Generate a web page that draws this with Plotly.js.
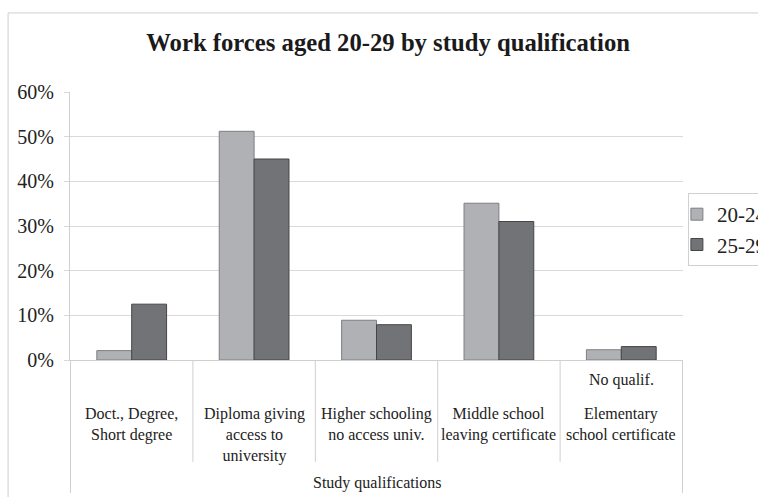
<!DOCTYPE html>
<html>
<head>
<meta charset="utf-8">
<script src="https://cdn.plot.ly/plotly-3.0.1.min.js"></script>
</head>
<body style="margin:0;background:#fff;font-family:'Liberation Serif',serif">
<div id="chart" style="width:758px;height:497px"></div>
<script>
const categories = ["Doct., Degree, Short degree", "Diploma giving access to university", "Higher schooling no access univ.", "Middle school leaving certificate", "Elementary school certificate"];
const categoryLabels = ["Doct., Degree,<br>Short degree", "Diploma giving<br>access to<br>university", "Higher schooling<br>no access univ.", "Middle school<br>leaving certificate", "Elementary<br>school certificate"];
const seriesNames = ["20-24", "25-29"];
const values2024 = [2.1, 51.2, 8.9, 35.1, 2.3];
const values2529 = [12.5, 45.0, 7.9, 31.0, 3.0];
const yTicks = [0, 10, 20, 30, 40, 50, 60];
const noteText = "No qualif.";
const noteCategory = categories[4];
const titleText = "Work forces aged 20-29 by study qualification";
const xTitleText = "Study qualifications";

const FAM = "Liberation Serif";
const txt = "#222222";
const gridC = "#d9d9d9";
const lineC = "#cfcfcf";

function draw() {
  const traces = [
    {type: "bar", name: seriesNames[0], x: categories, y: values2024,
     marker: {color: "#b0b1b5", line: {color: "#7e7f82", width: 1}}},
    {type: "bar", name: seriesNames[1], x: categories, y: values2529,
     marker: {color: "#727377", line: {color: "#454548", width: 1}}}
  ];

  const annotations = categories.map((c, i) => ({
    x: c, xref: "x", y: -0.159, yref: "paper", yanchor: "top", xanchor: "center",
    text: categoryLabels[i], showarrow: false, align: "center",
    font: {family: FAM, size: 16, color: txt}
  }));
  annotations.push({x: noteCategory, xref: "x", y: -0.075, yref: "paper", yanchor: "middle",
    text: noteText, showarrow: false, font: {family: FAM, size: 16, color: txt}});
  annotations.push({x: 0.5, xref: "paper", y: -0.459, yref: "paper", yanchor: "middle",
    text: xTitleText, showarrow: false, font: {family: FAM, size: 16, color: txt}});

  const shapes = [];
  [0.5, 1.5, 2.5, 3.5].forEach(v => shapes.push({type: "line", xref: "x", yref: "paper",
    x0: v, x1: v, y0: 0, y1: -0.38, line: {color: lineC, width: 1}}));
  [-0.5, 4.5].forEach(v => shapes.push({type: "line", xref: "x", yref: "paper",
    x0: v, x1: v, y0: 0, y1: -0.496, line: {color: lineC, width: 1}}));
  shapes.push({type: "line", xref: "paper", yref: "paper", x0: -0.101, x1: 1.13, y0: 1.295, y1: 1.295, line: {color: lineC, width: 1}});
  shapes.push({type: "line", xref: "paper", yref: "paper", x0: -0.101, x1: -0.101, y0: 1.295, y1: -0.52, line: {color: lineC, width: 1}});

  const layout = {
    width: 758, height: 497,
    margin: {l: 70, r: 75, t: 92, b: 137, autoexpand: false},
    paper_bgcolor: "#ffffff", plot_bgcolor: "#ffffff",
    font: {family: FAM, color: txt},
    title: {text: "<b>" + titleText + "</b>", font: {family: FAM, size: 24.7, color: "#1a1a1a"},
      xref: "paper", x: 0.519, xanchor: "center", yref: "container", y: 0.915, yanchor: "middle"},
    barmode: "group", bargap: 0.43, bargroupgap: 0,
    xaxis: {showticklabels: false, showline: true, linecolor: lineC, linewidth: 1,
      ticks: "", showgrid: false, zeroline: false},
    yaxis: {range: [0, 60], tickvals: yTicks, ticktext: yTicks.map(v => v + "%"),
      showgrid: true, gridcolor: gridC, gridwidth: 1, zeroline: false,
      showline: true, linecolor: lineC, linewidth: 1,
      ticks: "outside", ticklen: 5, tickcolor: gridC,
      tickfont: {family: FAM, size: 20, color: txt}, ticklabelstandoff: 6},
    legend: {x: 1.008, xanchor: "left", y: 0.623, yanchor: "top",
      bordercolor: "#d0d0d0", borderwidth: 1, bgcolor: "#ffffff", indentation: -12,
      font: {family: FAM, size: 21, color: txt}, itemwidth: 30, tracegroupgap: 0},
    showlegend: true,
    annotations: annotations,
    shapes: shapes
  };

  Plotly.newPlot("chart", traces, layout, {displayModeBar: false});
}

if (document.fonts && document.fonts.load) {
  Promise.all([
    document.fonts.load('16px "Liberation Serif"'),
    document.fonts.load('bold 25px "Liberation Serif"')
  ]).then(draw, draw);
} else {
  draw();
}
</script>
</body>
</html>
